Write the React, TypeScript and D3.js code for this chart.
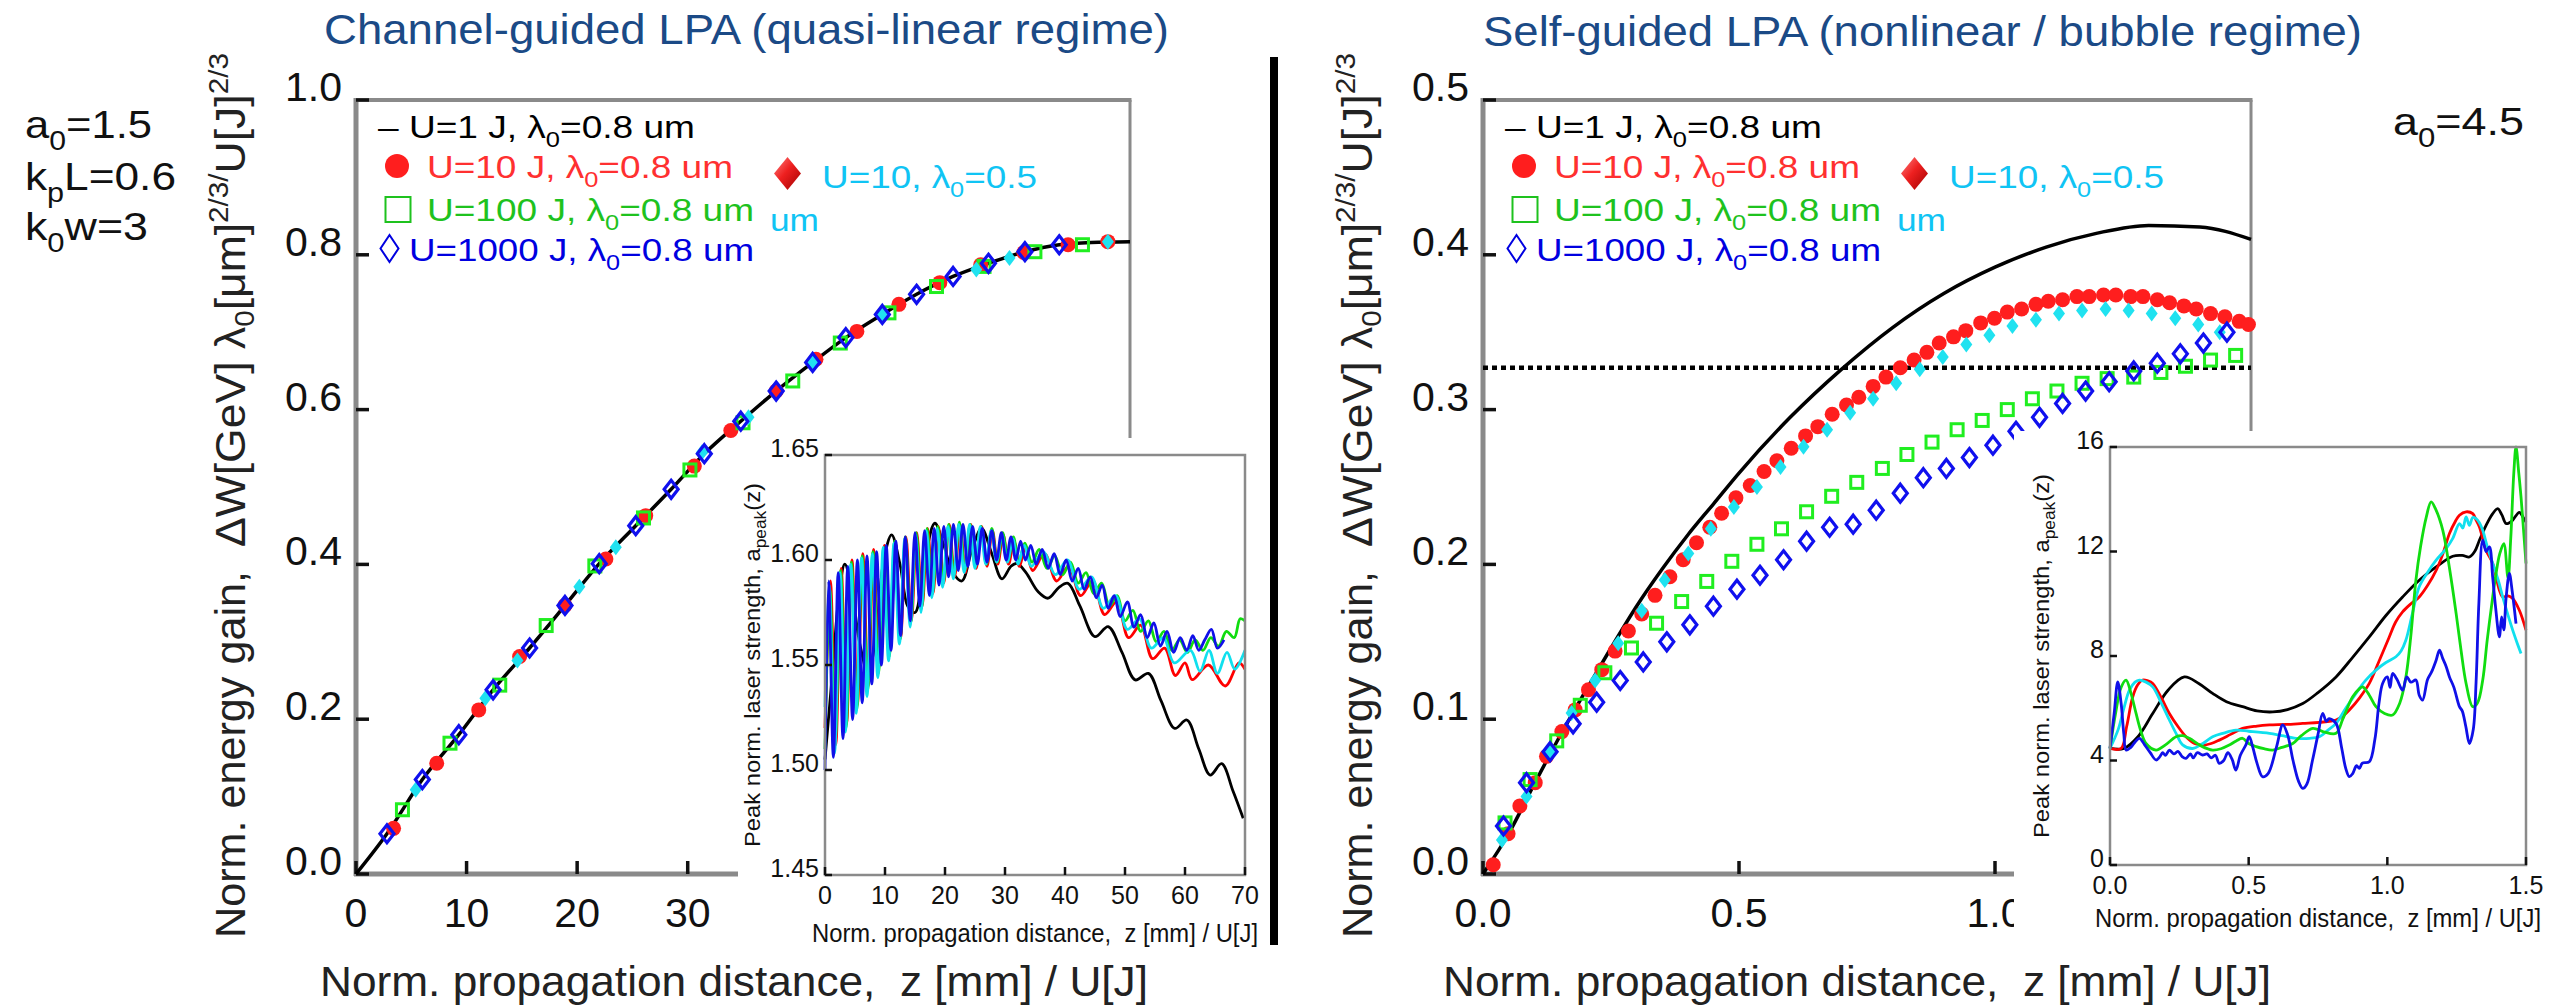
import React from 'react';
import * as d3 from 'd3';

const FONT = "'Liberation Sans', Arial, Helvetica, sans-serif";
const GRAY = '#8a8a8a';
const RED = '#ff1e1e';
const GREEN = '#20ee20';
const BLUE = '#1010ee';
const CYAN = '#20e2f0';
const RED_T = '#ff3030';
const GREEN_T = '#1ec21e';
const BLUE_T = '#0000e0';
const CYAN_T = '#10c4f4';
const TITLE_C = '#1b4a86';

// ---------------- Left panel: channel-guided ----------------
const leftCurveZ = [0, 2.8, 6, 9.3, 12.4, 15.7, 18.9, 22, 25.3, 28.5, 31.5, 34.8, 38, 41.3, 44.3, 47.6, 50.7, 54, 57.2, 60.5, 63.6, 66.5, 70];
const leftCurveV = [0, 0.052, 0.122, 0.18, 0.238, 0.292, 0.347, 0.401, 0.45, 0.497, 0.543, 0.585, 0.624, 0.661, 0.693, 0.723, 0.749, 0.772, 0.789, 0.804, 0.813, 0.816, 0.817];
const leftRedZ = [3.4, 7.3, 11.1, 14.8, 18.9, 22.6, 26.2, 30.6, 33.9, 38.0, 41.6, 45.3, 49.1, 52.8, 56.5, 60.4, 64.4, 68.0];
const leftRedV = [0.059, 0.143, 0.212, 0.281, 0.347, 0.407, 0.463, 0.527, 0.573, 0.624, 0.665, 0.701, 0.736, 0.764, 0.787, 0.803, 0.813, 0.817];
const leftGreenZ = [4.2, 8.5, 13.0, 17.2, 21.6, 26.0, 30.2, 35.0, 39.5, 43.8, 48.2, 52.5, 56.8, 61.4, 65.7];
const leftGreenV = [0.083, 0.169, 0.244, 0.321, 0.398, 0.46, 0.522, 0.583, 0.637, 0.686, 0.725, 0.759, 0.785, 0.804, 0.813];
const leftCyanZ = [5.4, 11.7, 14.6, 20.2, 23.5, 31.3, 35.5, 41.3, 47.6, 56.1, 59.1, 68.0];
const leftCyanV = [0.109, 0.227, 0.276, 0.371, 0.422, 0.545, 0.59, 0.661, 0.723, 0.781, 0.796, 0.817];
const leftBlueZ = [2.8, 6.0, 9.3, 12.4, 15.7, 18.9, 22.0, 25.3, 28.5, 31.5, 34.8, 38.0, 41.3, 44.3, 47.6, 50.7, 54.0, 57.2, 60.5, 63.6];
const leftBlueV = [0.052, 0.122, 0.18, 0.238, 0.292, 0.347, 0.401, 0.45, 0.497, 0.543, 0.585, 0.624, 0.661, 0.693, 0.723, 0.749, 0.772, 0.789, 0.804, 0.813];
const leftYTicks = [0, 0.2, 0.4, 0.6, 0.8, 1.0];
const leftXTicks = [0, 10, 20, 30, 40, 50, 60];
const leftXLabels = [0, 10, 20, 30];

// Left inset: peak a(z)
const insetLBlack: [number, number][] = [[0,1.505],[1.2,1.545],[2.4,1.585],[3.3,1.598],[4.5,1.585],[5.8,1.56],[7.2,1.546],[8.5,1.565],[9.8,1.6],[11.1,1.612],[12.5,1.598],[13.8,1.578],[15,1.575],[16.5,1.598],[18.3,1.6175],[19.8,1.607],[21.3,1.594],[22.8,1.59],[24.5,1.605],[26.1,1.615],[27.8,1.603],[29.5,1.591],[31,1.597],[32,1.5984],[33.5,1.594],[35.5,1.585],[37.2,1.5818],[39,1.587],[40.5,1.5889],[42.5,1.578],[45,1.5635],[47.2,1.5683],[49.5,1.556],[51.7,1.5429],[53.9,1.546],[56,1.533],[58.3,1.5198],[60.3,1.5238],[62.3,1.51],[64.2,1.4976],[66.1,1.503],[68,1.49],[69.7,1.477]];
const insetLRed: [number, number][] = [[0,1.52],[0.9,1.59],[1.8,1.512],[2.7,1.596],[3.6,1.522],[4.5,1.6],[5.4,1.531],[6.3,1.603],[7.2,1.54],[8.1,1.605],[9,1.549],[9.9,1.607],[10.8,1.556],[11.7,1.609],[12.6,1.563],[13.5,1.611],[14.4,1.571],[15.3,1.613],[16.2,1.578],[17.1,1.615],[18,1.584],[18.9,1.616],[19.8,1.589],[20.7,1.617],[21.6,1.592],[22.5,1.617],[23.4,1.594],[24.3,1.617],[25.2,1.596],[26.1,1.616],[27,1.597],[27.9,1.614],[28.8,1.598],[29.7,1.612],[30.6,1.598],[31.5,1.609],[32.4,1.597],[33.4,1.606],[34.6,1.595],[36.6,1.603],[38.6,1.59],[40.6,1.597],[42.6,1.583],[44.6,1.59],[46.6,1.574],[48.6,1.58],[50.6,1.563],[52.6,1.569],[54.6,1.553],[56.6,1.558],[58.4,1.545],[60,1.551],[61.2,1.543],[63.9,1.55],[66.7,1.54],[69,1.551],[70,1.548]];
const insetLCyan: [number, number][] = [[0,1.53],[0.7,1.588],[1.6,1.508],[2.5,1.594],[3.4,1.518],[4.3,1.598],[5.2,1.527],[6.1,1.601],[7,1.535],[7.9,1.603],[8.8,1.544],[9.7,1.606],[10.6,1.552],[11.5,1.608],[12.4,1.56],[13.3,1.61],[14.2,1.568],[15.1,1.612],[16,1.575],[16.9,1.614],[17.8,1.582],[18.7,1.615],[19.6,1.587],[20.5,1.616],[21.4,1.591],[22.3,1.617],[23.2,1.594],[24.1,1.617],[25,1.596],[25.9,1.616],[26.8,1.598],[27.7,1.614],[28.6,1.599],[29.5,1.612],[30.4,1.599],[31.3,1.61],[32.2,1.598],[33.2,1.607],[34.4,1.597],[36.4,1.604],[38.4,1.593],[40.4,1.6],[42.4,1.586],[44.4,1.592],[46.4,1.577],[48.4,1.583],[50.4,1.567],[52.4,1.572],[54.4,1.558],[56.4,1.563],[58.2,1.551],[60.9,1.557],[62.5,1.547],[64,1.557],[65.4,1.546],[67,1.556],[68.3,1.548],[70,1.557]];
const insetLGreen: [number, number][] = [[0,1.51],[0.8,1.586],[1.7,1.514],[2.6,1.595],[3.5,1.52],[4.4,1.599],[5.3,1.529],[6.2,1.602],[7.1,1.538],[8,1.604],[8.9,1.546],[9.8,1.606],[10.7,1.554],[11.6,1.609],[12.5,1.562],[13.4,1.611],[14.3,1.57],[15.2,1.613],[16.1,1.577],[17,1.615],[17.9,1.584],[18.8,1.616],[19.7,1.589],[20.6,1.617],[21.5,1.593],[22.4,1.618],[23.3,1.595],[24.2,1.617],[25.1,1.597],[26,1.616],[26.9,1.598],[27.8,1.615],[28.7,1.599],[29.6,1.613],[30.5,1.6],[31.4,1.611],[32.3,1.599],[33.3,1.608],[34.5,1.599],[35.7,1.605],[37,1.596],[38.3,1.602],[39.6,1.593],[40.9,1.599],[42.2,1.589],[43.5,1.594],[44.8,1.584],[46.1,1.589],[47.4,1.578],[48.7,1.583],[50,1.571],[51.3,1.576],[52.6,1.566],[53.9,1.571],[55.2,1.561],[56.5,1.566],[57.8,1.557],[59.1,1.562],[60.4,1.556],[61.7,1.562],[63,1.557],[64.3,1.563],[65.6,1.559],[66.9,1.566],[68.2,1.563],[69.2,1.572],[70,1.571]];
const insetLBlue: [number, number][] = [[0,1.5],[0.6,1.59],[1.4,1.506],[2.2,1.594],[3,1.515],[3.8,1.597],[4.6,1.524],[5.4,1.6],[6.2,1.532],[7,1.602],[7.8,1.541],[8.6,1.604],[9.4,1.55],[10.2,1.607],[11,1.557],[11.8,1.609],[12.6,1.564],[13.4,1.611],[14.2,1.571],[15,1.613],[15.8,1.578],[16.6,1.614],[17.4,1.583],[18.2,1.615],[19,1.588],[19.8,1.616],[20.6,1.592],[21.4,1.617],[22.2,1.595],[23,1.617],[23.8,1.597],[24.6,1.616],[25.4,1.598],[26.2,1.615],[27,1.599],[27.8,1.614],[28.6,1.6],[29.4,1.613],[30.2,1.6],[31,1.611],[31.8,1.6],[32.6,1.609],[33.4,1.6],[34.3,1.607],[35.2,1.598],[36.2,1.605],[37.2,1.596],[38.2,1.603],[39.2,1.593],[40.2,1.6],[41.2,1.59],[42.2,1.596],[43.2,1.586],[44.2,1.592],[45.2,1.582],[46.2,1.588],[47.2,1.577],[48.2,1.583],[49.2,1.573],[50.4,1.58],[51.5,1.568],[52.6,1.574],[53.7,1.563],[54.8,1.57],[55.9,1.559],[57,1.566],[58.1,1.556],[59.2,1.563],[60.3,1.557],[61.3,1.564],[62.3,1.557],[63.3,1.562],[64.4,1.567],[65.4,1.558],[66.5,1.562]];
const insetLYTicks = [1.45, 1.5, 1.55, 1.6, 1.65];
const insetLXTicks = [0, 10, 20, 30, 40, 50, 60, 70];

// ---------------- Right panel: self-guided ----------------
const rightCurveZ = [0, 0.05, 0.1, 0.15, 0.2, 0.25, 0.3, 0.35, 0.4, 0.45, 0.5, 0.6, 0.7, 0.8, 0.9, 1.0, 1.1, 1.2, 1.3, 1.4, 1.5];
const rightCurveV = [0, 0.026, 0.058, 0.089, 0.118, 0.146, 0.173, 0.197, 0.219, 0.239, 0.259, 0.295, 0.326, 0.353, 0.375, 0.392, 0.405, 0.414, 0.419, 0.418, 0.41];
const rightDotted = 0.327;
const rightRedZ = [0.020, 0.049, 0.072, 0.102, 0.124, 0.154, 0.180, 0.206, 0.232, 0.258, 0.284, 0.310, 0.336, 0.365, 0.391, 0.417, 0.443, 0.466, 0.494, 0.522, 0.549, 0.574, 0.602, 0.630, 0.654, 0.682, 0.710, 0.734, 0.762, 0.787, 0.815, 0.842, 0.867, 0.891, 0.919, 0.943, 0.972, 0.999, 1.024, 1.052, 1.080, 1.104, 1.132, 1.160, 1.184, 1.212, 1.236, 1.265, 1.289, 1.317, 1.341, 1.369, 1.393, 1.421, 1.449, 1.477, 1.495];
const rightRedV = [0.006, 0.026, 0.044, 0.059, 0.076, 0.092, 0.106, 0.119, 0.132, 0.144, 0.157, 0.168, 0.180, 0.192, 0.203, 0.214, 0.224, 0.233, 0.243, 0.251, 0.260, 0.267, 0.275, 0.283, 0.289, 0.297, 0.303, 0.308, 0.315, 0.321, 0.327, 0.332, 0.337, 0.343, 0.347, 0.351, 0.356, 0.359, 0.363, 0.365, 0.368, 0.370, 0.371, 0.373, 0.373, 0.374, 0.374, 0.373, 0.373, 0.371, 0.369, 0.367, 0.365, 0.362, 0.360, 0.357, 0.355];
const rightCyanZ = [0.037, 0.085, 0.131, 0.173, 0.219, 0.264, 0.310, 0.355, 0.401, 0.445, 0.490, 0.535, 0.581, 0.626, 0.672, 0.717, 0.762, 0.807, 0.853, 0.898, 0.944, 0.989, 1.034, 1.080, 1.125, 1.170, 1.216, 1.261, 1.306, 1.352, 1.397, 1.439];
const rightCyanV = [0.022, 0.050, 0.079, 0.104, 0.125, 0.149, 0.170, 0.190, 0.207, 0.223, 0.237, 0.250, 0.263, 0.276, 0.287, 0.298, 0.307, 0.317, 0.326, 0.334, 0.342, 0.348, 0.354, 0.358, 0.362, 0.364, 0.365, 0.364, 0.362, 0.359, 0.355, 0.350];
const rightGreenZ = [0.043, 0.092, 0.144, 0.190, 0.238, 0.290, 0.339, 0.388, 0.437, 0.486, 0.535, 0.583, 0.632, 0.681, 0.730, 0.780, 0.828, 0.877, 0.926, 0.975, 1.024, 1.073, 1.121, 1.170, 1.219, 1.271, 1.324, 1.372, 1.421, 1.470];
const rightGreenV = [0.033, 0.061, 0.086, 0.109, 0.130, 0.146, 0.162, 0.176, 0.189, 0.202, 0.213, 0.223, 0.234, 0.244, 0.253, 0.262, 0.271, 0.279, 0.287, 0.293, 0.300, 0.307, 0.312, 0.317, 0.320, 0.321, 0.324, 0.328, 0.332, 0.335];
const rightBlueZ = [0.040, 0.085, 0.131, 0.176, 0.222, 0.268, 0.313, 0.359, 0.404, 0.450, 0.496, 0.541, 0.587, 0.632, 0.677, 0.723, 0.768, 0.815, 0.860, 0.905, 0.950, 0.996, 1.041, 1.087, 1.132, 1.177, 1.223, 1.271, 1.317, 1.362, 1.407, 1.453];
const rightBlueV = [0.031, 0.059, 0.079, 0.097, 0.111, 0.125, 0.137, 0.150, 0.161, 0.173, 0.184, 0.193, 0.203, 0.215, 0.224, 0.226, 0.235, 0.246, 0.256, 0.262, 0.269, 0.277, 0.286, 0.295, 0.304, 0.312, 0.318, 0.325, 0.330, 0.336, 0.343, 0.350];
const rightYTicks = [0, 0.1, 0.2, 0.3, 0.4, 0.5];
const rightXTicks = [0, 0.5, 1.0];

// Right inset
const insetRBlack: [number, number][] = [[0,4.46],[0.05,4.46],[0.1,4.9],[0.154,5.8],[0.21,6.7],[0.268,7.2],[0.32,6.95],[0.37,6.57],[0.42,6.25],[0.478,6.06],[0.53,5.9],[0.587,5.86],[0.64,5.95],[0.695,6.18],[0.75,6.6],[0.815,7.2],[0.875,7.95],[0.935,8.73],[0.995,9.55],[1.055,10.26],[1.115,10.9],[1.176,11.41],[1.236,11.82],[1.27,11.85],[1.296,11.79],[1.315,12.0],[1.332,12.43],[1.356,13.0],[1.38,13.45],[1.398,13.64],[1.413,13.4],[1.428,13.07],[1.44,13.1],[1.452,13.2],[1.476,13.5],[1.49,13.3],[1.5,13.13]];
const insetRRed: [number, number][] = [[0,4.46],[0.04,4.46],[0.06,5.3],[0.082,6.44],[0.1,6.9],[0.118,7.08],[0.136,7.05],[0.154,6.95],[0.185,6.4],[0.214,5.8],[0.245,5.3],[0.274,4.91],[0.305,4.65],[0.334,4.59],[0.365,4.65],[0.394,4.78],[0.435,5.0],[0.478,5.23],[0.53,5.32],[0.575,5.36],[0.635,5.38],[0.695,5.42],[0.755,5.46],[0.815,5.55],[0.845,5.75],[0.863,5.93],[0.9,6.4],[0.935,6.95],[0.97,7.8],[1.007,8.73],[1.03,9.3],[1.055,9.69],[1.085,10.0],[1.115,10.26],[1.145,10.7],[1.176,11.28],[1.2,11.9],[1.224,12.69],[1.245,13.15],[1.26,13.39],[1.284,13.52],[1.308,13.45],[1.32,13.2],[1.332,12.94],[1.356,12.05],[1.38,11.54],[1.404,10.52],[1.416,10.26],[1.435,10.3],[1.452,10.2],[1.476,9.75],[1.5,8.99]];
const insetRCyan: [number, number][] = [[0,4.46],[0.03,5.2],[0.05,6.0],[0.07,6.69],[0.09,7.0],[0.106,7.08],[0.13,7.0],[0.154,6.82],[0.185,6.2],[0.214,5.55],[0.24,5.0],[0.262,4.6],[0.298,4.46],[0.335,4.65],[0.37,4.91],[0.41,5.05],[0.454,5.16],[0.5,5.12],[0.575,5.04],[0.62,4.95],[0.671,4.85],[0.72,4.85],[0.755,4.91],[0.785,5.15],[0.815,5.42],[0.85,6.0],[0.887,6.57],[0.92,7.05],[0.959,7.46],[0.995,7.75],[1.031,7.97],[1.05,8.2],[1.067,8.61],[1.09,9.6],[1.115,10.65],[1.145,11.2],[1.176,11.67],[1.212,12.11],[1.236,12.5],[1.26,13.07],[1.272,12.9],[1.284,13.32],[1.296,13.0],[1.308,13.3],[1.32,13.26],[1.332,13.1],[1.344,12.81],[1.36,12.2],[1.38,11.54],[1.4,10.9],[1.416,10.26],[1.434,9.6],[1.452,8.99],[1.468,8.5],[1.482,8.1]];
const insetRGreen: [number, number][] = [[0,4.46],[0.02,5.8],[0.04,6.8],[0.058,7.08],[0.075,6.6],[0.094,5.8],[0.112,5.1],[0.13,4.65],[0.166,4.4],[0.2,4.6],[0.238,4.91],[0.262,4.95],[0.286,4.85],[0.33,4.55],[0.37,4.4],[0.4,4.45],[0.43,4.59],[0.455,4.75],[0.478,4.85],[0.5,4.65],[0.527,4.53],[0.555,4.45],[0.587,4.4],[0.62,4.5],[0.659,4.65],[0.69,4.95],[0.731,5.23],[0.77,5.1],[0.815,5.04],[0.84,5.6],[0.875,6.44],[0.9,6.75],[0.911,6.82],[0.935,6.5],[0.959,6.06],[0.99,5.8],[1.019,5.74],[1.045,6.2],[1.067,7.2],[1.085,8.8],[1.103,10.9],[1.12,12.2],[1.14,13.3],[1.158,13.9],[1.175,13.6],[1.2,12.81],[1.225,11.3],[1.248,9.63],[1.266,8.2],[1.284,6.95],[1.308,6.06],[1.325,6.2],[1.344,7.08],[1.36,8.6],[1.38,10.26],[1.392,11.16],[1.405,11.9],[1.42,12.3],[1.435,11.0],[1.445,12.5],[1.456,15.0],[1.464,16.0],[1.474,15.0],[1.482,14.09],[1.492,12.7],[1.5,11.54]];
const insetRBlue: [number, number][] = [[0,4.46],[0.015,5.8],[0.028,7.01],[0.04,6.2],[0.05,5.0],[0.058,4.4],[0.075,4.5],[0.09,4.7],[0.106,4.85],[0.125,4.6],[0.145,4.3],[0.166,4.02],[0.18,4.15],[0.19,4.3],[0.2,4.2],[0.214,4.4],[0.23,4.25],[0.245,4.35],[0.26,4.15],[0.274,4.08],[0.29,4.25],[0.3,4.1],[0.315,4.3],[0.334,4.21],[0.35,4.25],[0.365,4.1],[0.38,4.2],[0.394,3.89],[0.41,4.0],[0.425,4.3],[0.44,4.05],[0.454,3.63],[0.47,4.2],[0.49,4.6],[0.502,4.91],[0.515,4.5],[0.53,3.9],[0.55,3.38],[0.57,3.5],[0.6,4.5],[0.623,5.36],[0.64,5.0],[0.66,4.0],[0.68,3.2],[0.695,2.93],[0.71,3.1],[0.73,4.0],[0.75,5.0],[0.767,5.8],[0.78,5.5],[0.79,5.6],[0.815,5.42],[0.835,4.5],[0.85,3.7],[0.863,3.38],[0.875,3.5],[0.889,3.8],[0.899,3.7],[0.91,3.9],[0.935,3.95],[0.955,4.8],[0.97,6.2],[0.983,6.95],[1.0,7.2],[1.01,6.8],[1.019,7.33],[1.035,7.1],[1.055,6.69],[1.07,7.2],[1.085,7.0],[1.103,7.08],[1.115,6.5],[1.127,6.31],[1.145,7.1],[1.16,7.4],[1.176,7.84],[1.188,8.22],[1.2,7.9],[1.212,7.6],[1.224,7.2],[1.24,6.8],[1.26,6.06],[1.27,5.9],[1.283,5.3],[1.296,4.65],[1.31,5.2],[1.32,7.0],[1.33,10.0],[1.344,12.43],[1.356,12.0],[1.368,12.18],[1.38,11.0],[1.39,9.9],[1.404,8.73],[1.412,9.5],[1.42,9.0],[1.428,10.2],[1.44,11.16],[1.45,10.5],[1.464,9.24]];
const insetRYTicks = [0, 4, 8, 12, 16];
const insetRXTicks = [0, 0.5, 1.0, 1.5];

// ---------------- scales ----------------
const xL = d3.scaleLinear().domain([0, 70]).range([356, 1130]);
const yL = d3.scaleLinear().domain([0, 1]).range([874, 100]);
const xR = d3.scaleLinear().domain([0, 1.5]).range([1483, 2251]);
const yR = d3.scaleLinear().domain([0, 0.5]).range([874, 100]);
const xLI = d3.scaleLinear().domain([0, 70]).range([825, 1245]);
const yLI = d3.scaleLinear().domain([1.45, 1.65]).range([875, 455]);
const xRI = d3.scaleLinear().domain([0, 1.5]).range([2110, 2526]);
const yRI = d3.scaleLinear().domain([0, 16]).range([865, 447]);

const diamond = (w: number, h: number) => `M0,${-h / 2}L${w / 2},0L0,${h / 2}L${-w / 2},0Z`;

function zip(a: number[], b: number[]): [number, number][] {
  return a.map((v, i) => [v, b[i]] as [number, number]);
}

function MainFrame({ x, y, yTicks, xTicks, xLabels, yFmt, xFmt }: any) {
  const [x0, x1] = x.range();
  const [y0, y1] = y.range();
  return (
    <g>
      <line x1={x0} y1={y1} x2={x1 + 1.5} y2={y1} stroke={GRAY} strokeWidth={4} />
      <line x1={x1} y1={y1} x2={x1} y2={y0} stroke={GRAY} strokeWidth={3} />
      <line x1={x0} y1={y1 - 2} x2={x0} y2={y0 + 2} stroke={GRAY} strokeWidth={5} />
      <line x1={x0 - 2} y1={y0} x2={x1} y2={y0} stroke={GRAY} strokeWidth={5} />
      {yTicks.map((t: number) => (
        <line key={'yt' + t} x1={x0} x2={x0 + 13} y1={y(t)} y2={y(t)} stroke="#111" strokeWidth={3.5} />
      ))}
      {xTicks.map((t: number) => (
        <line key={'xt' + t} x1={x(t)} x2={x(t)} y1={y0} y2={y0 - 13} stroke="#111" strokeWidth={3.5} />
      ))}
      {yTicks.map((t: number) => (
        <text key={'yl' + t} x={x0 - 14} y={y(t) + 1} textAnchor="end" fontSize={41} fontFamily={FONT} fill="#111">
          {yFmt(t)}
        </text>
      ))}
      {xLabels.map((t: number) => (
        <text key={'xl' + t} x={x(t)} y={y0 + 53} textAnchor="middle" fontSize={41} fontFamily={FONT} fill="#111">
          {xFmt(t)}
        </text>
      ))}
    </g>
  );
}

function YTitle({ bx }: { bx: number }) {
  return (
    <g fontFamily={FONT} fill="#222">
      <text transform={`translate(${bx},938) rotate(-90)`} fontSize={42} textLength={367} lengthAdjust="spacingAndGlyphs">
        Norm. energy gain,
      </text>
      <text transform={`translate(${bx},547) rotate(-90)`} fontSize={42} textLength={494} lengthAdjust="spacingAndGlyphs">
        ΔW[GeV] λ<tspan dy={9} fontSize={28}>0</tspan>
        <tspan dy={-9}>[μm]</tspan>
        <tspan dy={-17} fontSize={28}>2/3/</tspan>
        <tspan dy={17}>U[J]</tspan>
        <tspan dy={-17} fontSize={28}>2/3</tspan>
      </text>
    </g>
  );
}

function Legend({ L }: { L: number }) {
  const sub = (c: string) => (
    <>
      <tspan dy={9} fontSize={22}>0</tspan>
      <tspan dy={-9}>{c}</tspan>
    </>
  );
  return (
    <g fontFamily={FONT} fontSize={32}>
      <text x={L + 22} y={138} textLength={317} lengthAdjust="spacingAndGlyphs" fill="#000">
        – U=1 J, λ{sub('=0.8 um')}
      </text>
      <circle cx={L + 41} cy={166} r={12} fill={RED} />
      <text x={L + 71} y={178} textLength={306} lengthAdjust="spacingAndGlyphs" fill={RED_T}>
        U=10 J, λ{sub('=0.8 um')}
      </text>
      <rect x={L + 29.5} y={197} width={25} height={25} fill="none" stroke={GREEN_T} strokeWidth={2} />
      <text x={L + 71} y={221} textLength={327} lengthAdjust="spacingAndGlyphs" fill={GREEN_T}>
        U=100 J, λ{sub('=0.8 um')}
      </text>
      <path transform={`translate(${L + 33.5},248.5)`} d={diamond(18, 27)} fill="none" stroke={BLUE_T} strokeWidth={2} />
      <text x={L + 53} y={261} textLength={345} lengthAdjust="spacingAndGlyphs" fill={BLUE_T}>
        U=1000 J, λ{sub('=0.8 um')}
      </text>
      <path transform={`translate(${L + 431.5},173.5)`} d={diamond(27, 33)} fill="url(#rdGrad)" />
      <text x={L + 466} y={188} textLength={215} lengthAdjust="spacingAndGlyphs" fill={CYAN_T}>
        U=10, λ{sub('=0.5')}
      </text>
      <text x={L + 414} y={231} textLength={49} lengthAdjust="spacingAndGlyphs" fill={CYAN_T}>
        um
      </text>
    </g>
  );
}

function Inset({ x, y, yTicks, xTicks, yFmt, xFmt, lines, titleX, titleBase }: any) {
  const [x0, x1] = x.range();
  const [y0, y1] = y.range();
  const lineGen = d3
    .line<[number, number]>()
    .x((d) => x(d[0]))
    .y((d) => y(d[1]))
    .curve(d3.curveCatmullRom.alpha(0.5));
  return (
    <g>
      {lines.map((l: any, i: number) => (
        <path key={i} d={lineGen(l.data) || ''} fill="none" stroke={l.color} strokeWidth={2.8} strokeLinejoin="round" />
      ))}
      <rect x={x0} y={y1} width={x1 - x0} height={y0 - y1} fill="none" stroke={GRAY} strokeWidth={2.5} />
      {yTicks.map((t: number) => (
        <line key={'a' + t} x1={x0} x2={x0 + 7} y1={y(t)} y2={y(t)} stroke="#111" strokeWidth={2.5} />
      ))}
      {xTicks.map((t: number) => (
        <line key={'b' + t} x1={x(t)} x2={x(t)} y1={y0} y2={y0 - 8} stroke="#111" strokeWidth={2.5} />
      ))}
      {yTicks.map((t: number) => (
        <text key={'c' + t} x={x0 - 6} y={y(t) + 2} textAnchor="end" fontSize={25} fontFamily={FONT} fill="#111">
          {yFmt(t)}
        </text>
      ))}
      {xTicks.map((t: number) => (
        <text key={'d' + t} x={x(t)} y={y0 + 29} textAnchor="middle" fontSize={25} fontFamily={FONT} fill="#111">
          {xFmt(t)}
        </text>
      ))}
      <text
        x={(x0 + x1) / 2}
        y={titleBase}
        textAnchor="middle"
        fontSize={25}
        fontFamily={FONT}
        fill="#111"
        textLength={446}
        lengthAdjust="spacingAndGlyphs"
        style={{ whiteSpace: 'pre' }}
      >
        {'Norm. propagation distance,  z [mm] / U[J]'}
      </text>
      <text
        transform={`translate(${titleX},${(y0 + y1) / 2}) rotate(-90)`}
        textAnchor="middle"
        fontSize={22}
        fontFamily={FONT}
        fill="#111"
        textLength={364}
        lengthAdjust="spacingAndGlyphs"
      >
        Peak norm. laser strength, a<tspan dy={6} fontSize={16}>peak</tspan>
        <tspan dy={-6}>(z)</tspan>
      </text>
    </g>
  );
}

export default function App() {
  const curveGen = (x: any, y: any) =>
    d3
      .line<[number, number]>()
      .x((d) => x(d[0]))
      .y((d) => y(d[1]))
      .curve(d3.curveMonotoneX);

  const markers = (x: any, y: any, zs: number[], vs: number[], kind: string, key: string) =>
    zs.map((z, i) => {
      const cx = x(z);
      const cy = y(vs[i]);
      const k = key + i;
      if (kind === 'circle') return <circle key={k} cx={cx} cy={cy} r={7.5} fill={RED} />;
      if (kind === 'square')
        return (
          <rect key={k} x={cx - 6} y={cy - 6} width={12} height={12} fill="none" stroke={GREEN} strokeWidth={3} />
        );
      if (kind === 'cyan')
        return <path key={k} transform={`translate(${cx},${cy})`} d={diamond(12, 16)} fill={CYAN} />;
      return (
        <path key={k} transform={`translate(${cx},${cy})`} d={diamond(14, 18)} fill="none" stroke={BLUE} strokeWidth={3.2} />
      );
    });

  const f1 = d3.format('.1f');
  const f2 = d3.format('.2f');

  return (
    <svg
      width={2552}
      height={1006}
      viewBox="0 0 2552 1006"
      style={{ position: 'absolute', left: 0, top: 0, background: '#fff' }}
      fontFamily={FONT}
    >
      <defs>
        <linearGradient id="rdGrad" x1="0" y1="0" x2="1" y2="1">
          <stop offset="0" stopColor="#ff8080" />
          <stop offset="0.45" stopColor="#ee2020" />
          <stop offset="1" stopColor="#a00000" />
        </linearGradient>
      </defs>
      <rect x={0} y={0} width={2552} height={1006} fill="#fff" />

      {/* Titles */}
      <text x={324} y={44} fontSize={43} fill={TITLE_C} textLength={845} lengthAdjust="spacingAndGlyphs">
        Channel-guided LPA (quasi-linear regime)
      </text>
      <text x={1483} y={46} fontSize={43} fill={TITLE_C} textLength={879} lengthAdjust="spacingAndGlyphs">
        Self-guided LPA (nonlinear / bubble regime)
      </text>

      {/* Parameters */}
      <g fontSize={39} fill="#111">
        <text x={25} y={138} textLength={127} lengthAdjust="spacingAndGlyphs">
          a<tspan dy={12} fontSize={27}>0</tspan>
          <tspan dy={-12}>=1.5</tspan>
        </text>
        <text x={25} y={190} textLength={151} lengthAdjust="spacingAndGlyphs">
          k<tspan dy={12} fontSize={27}>p</tspan>
          <tspan dy={-12}>L=0.6</tspan>
        </text>
        <text x={25} y={240} textLength={123} lengthAdjust="spacingAndGlyphs">
          k<tspan dy={12} fontSize={27}>0</tspan>
          <tspan dy={-12}>w=3</tspan>
        </text>
        <text x={2393} y={135} textLength={131} lengthAdjust="spacingAndGlyphs">
          a<tspan dy={12} fontSize={27}>0</tspan>
          <tspan dy={-12}>=4.5</tspan>
        </text>
      </g>

      {/* ---------- Left main ---------- */}
      <MainFrame x={xL} y={yL} yTicks={leftYTicks} xTicks={leftXTicks} xLabels={leftXLabels} yFmt={f1} xFmt={(d: number) => String(d)} />
      <path d={curveGen(xL, yL)(zip(leftCurveZ, leftCurveV)) || ''} fill="none" stroke="#000" strokeWidth={3.5} />
      {markers(xL, yL, leftRedZ, leftRedV, 'circle', 'lr')}
      {markers(xL, yL, leftGreenZ, leftGreenV, 'square', 'lg')}
      {markers(xL, yL, leftCyanZ, leftCyanV, 'cyan', 'lc')}
      {markers(xL, yL, leftBlueZ, leftBlueV, 'blue', 'lb')}
      <Legend L={356} />
      <YTitle bx={245} />
      <text x={320} y={996} fontSize={43} fill="#222" textLength={828} lengthAdjust="spacingAndGlyphs" style={{ whiteSpace: 'pre' }}>
        {'Norm. propagation distance,  z [mm] / U[J]'}
      </text>

      {/* Left inset */}
      <rect x={738} y={438} width={528} height={520} fill="#fff" />
      <Inset
        x={xLI}
        y={yLI}
        yTicks={insetLYTicks}
        xTicks={insetLXTicks}
        yFmt={f2}
        xFmt={(d: number) => String(d)}
        titleX={760}
        titleBase={942}
        lines={[
          { data: insetLBlack, color: '#000' },
          { data: insetLRed, color: '#ff0000' },
          { data: insetLGreen, color: '#10dd10' },
          { data: insetLCyan, color: '#10e0ee' },
          { data: insetLBlue, color: '#1010e8' },
        ]}
      />

      {/* ---------- Right main ---------- */}
      <MainFrame x={xR} y={yR} yTicks={rightYTicks} xTicks={rightXTicks} xLabels={rightXTicks} yFmt={f1} xFmt={f1} />
      <line x1={xR(0)} x2={xR(1.5)} y1={yR(rightDotted)} y2={yR(rightDotted)} stroke="#000" strokeWidth={4.5} strokeDasharray="5,4" />
      <path d={curveGen(xR, yR)(zip(rightCurveZ, rightCurveV)) || ''} fill="none" stroke="#000" strokeWidth={3.5} />
      {markers(xR, yR, rightRedZ, rightRedV, 'circle', 'rr')}
      {markers(xR, yR, rightGreenZ, rightGreenV, 'square', 'rg')}
      {markers(xR, yR, rightCyanZ, rightCyanV, 'cyan', 'rc')}
      {markers(xR, yR, rightBlueZ, rightBlueV, 'blue', 'rb')}
      <Legend L={1483} />
      <YTitle bx={1372} />
      <text x={1443} y={996} fontSize={43} fill="#222" textLength={828} lengthAdjust="spacingAndGlyphs" style={{ whiteSpace: 'pre' }}>
        {'Norm. propagation distance,  z [mm] / U[J]'}
      </text>

      {/* Right inset */}
      <rect x={2014} y={431} width={538} height={527} fill="#fff" />
      <Inset
        x={xRI}
        y={yRI}
        yTicks={insetRYTicks}
        xTicks={insetRXTicks}
        yFmt={(d: number) => String(d)}
        xFmt={f1}
        titleX={2049}
        titleBase={927}
        lines={[
          { data: insetRBlack, color: '#000' },
          { data: insetRRed, color: '#ff0000' },
          { data: insetRCyan, color: '#10e0ee' },
          { data: insetRGreen, color: '#10dd10' },
          { data: insetRBlue, color: '#1010e8' },
        ]}
      />

      {/* Separator */}
      <rect x={1270} y={57} width={8} height={888} fill="#000" />
    </svg>
  );
}
